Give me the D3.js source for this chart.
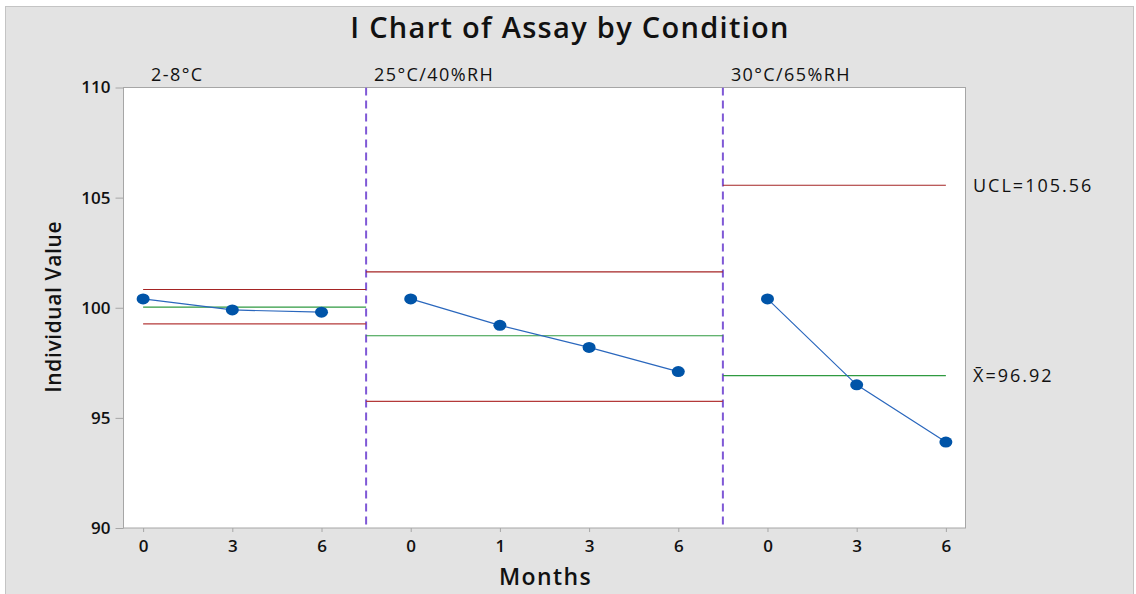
<!DOCTYPE html>
<html>
<head>
<meta charset="utf-8">
<script src="https://cdn.jsdelivr.net/npm/d3@7/dist/d3.min.js"></script>
<style>
  html, body { margin: 0; padding: 0; background: #ffffff; }
  svg { display: block; }
  text { font-family: "Open Sans", "Noto Sans", sans-serif; fill: #111; }
</style>
</head>
<body>
<svg id="chart" width="1136" height="594"></svg>
<script>
// Storage conditions (stages) and observation months
const conditions = ["2-8°C", "25°C/40%RH", "30°C/65%RH"];
const months = [0, 3, 6, 0, 1, 3, 6, 0, 3, 6];
const stageOf = [0, 0, 0, 1, 1, 1, 1, 2, 2, 2];
const assay = [100.4, 99.9, 99.8, 100.4, 99.2, 98.2, 97.1, 100.4, 96.5, 93.9];

// Control limits per stage
const centerLine = [100.03, 98.73, 96.92];
const upperLimit = [100.83, 101.63, 105.56];
const lowerLimit = [99.27, 95.75, 88.28];

// Stage extents along the observation index
const stageStart = [0, 2.5, 6.5];
const stageEnd = [2.5, 6.5, 9];

const yTicks = [90, 95, 100, 105, 110];

const svg = d3.select("#chart");
const plot = { left: 123.5, right: 965.5, top: 87.5, bottom: 528 };

// Panel background
svg.append("rect")
  .attr("x", 5.5).attr("y", 6.5).attr("width", 1128).attr("height", 600)
  .attr("fill", "#e3e3e3").attr("stroke", "#c4c4c4").attr("stroke-width", 1);

const x = d3.scaleLinear().domain([-0.22, 9.22]).range([plot.left, plot.right]);
const y = d3.scaleLinear().domain([90, 110]).range([plot.bottom, plot.top]);

// Plot area
svg.append("rect")
  .attr("x", plot.left).attr("y", plot.top)
  .attr("width", plot.right - plot.left).attr("height", plot.bottom - plot.top)
  .attr("fill", "#ffffff").attr("stroke", "#a6a6a6").attr("stroke-width", 1);

svg.append("defs").append("clipPath").attr("id", "plotClip")
  .append("rect")
  .attr("x", plot.left).attr("y", plot.top)
  .attr("width", plot.right - plot.left).attr("height", plot.bottom - plot.top);

// Y axis
const yAxis = d3.axisLeft(y).tickValues(yTicks).tickSize(8).tickPadding(5).tickFormat(d3.format("d"));
const gy = svg.append("g").attr("transform", `translate(${plot.left},0)`).call(yAxis);
gy.select(".domain").remove();
gy.selectAll(".tick line").attr("stroke", "#a6a6a6");
gy.selectAll(".tick text")
  .style("font-family", "'Open Sans', sans-serif")
  .style("font-size", "17px").style("font-weight", 600).attr("fill", "#111");

// X axis
const xAxis = d3.axisBottom(x).tickValues(d3.range(months.length)).tickSize(4).tickPadding(8)
  .tickFormat(i => months[i]);
const gx = svg.append("g").attr("transform", `translate(0,${plot.bottom})`).call(xAxis);
gx.select(".domain").remove();
gx.selectAll(".tick line").attr("stroke", "#a6a6a6");
gx.selectAll(".tick text")
  .style("font-family", "'Open Sans', sans-serif")
  .style("font-size", "17px").style("font-weight", 600).attr("fill", "#111");

const g = svg.append("g").attr("clip-path", "url(#plotClip)");

// Stage dividers
g.selectAll("line.divider")
  .data(stageStart.slice(1))
  .enter().append("line")
  .attr("class", "divider")
  .attr("x1", d => x(d)).attr("x2", d => x(d))
  .attr("y1", plot.top).attr("y2", plot.bottom)
  .attr("stroke", "#7f58d6").attr("stroke-width", 2)
  .attr("stroke-dasharray", "8,5");

// Control limits and center lines per stage
const limits = [];
conditions.forEach((c, s) => {
  limits.push({ s, v: upperLimit[s], color: "#a52424" });
  limits.push({ s, v: lowerLimit[s], color: "#b43a3a" });
  limits.push({ s, v: centerLine[s], color: "#2f9a40" });
});
g.selectAll("line.limit")
  .data(limits)
  .enter().append("line")
  .attr("class", "limit")
  .attr("x1", d => x(stageStart[d.s])).attr("x2", d => x(stageEnd[d.s]))
  .attr("y1", d => y(d.v)).attr("y2", d => y(d.v))
  .attr("stroke", d => d.color).attr("stroke-width", 1.1);

// Observations connected within each stage
const line = d3.line().x(d => x(d.i)).y(d => y(d.v));
conditions.forEach((c, s) => {
  const pts = assay.map((v, i) => ({ v, i })).filter(d => stageOf[d.i] === s);
  g.append("path").datum(pts)
    .attr("d", line).attr("fill", "none")
    .attr("stroke", "#2a67bd").attr("stroke-width", 1.2);
});
g.selectAll("ellipse.pt")
  .data(assay.map((v, i) => ({ v, i })))
  .enter().append("ellipse")
  .attr("class", "pt")
  .attr("cx", d => x(d.i)).attr("cy", d => y(d.v))
  .attr("rx", 6.5).attr("ry", 5.5)
  .attr("fill", "#0054a8");

// Stage labels
svg.selectAll("text.stage")
  .data(conditions)
  .enter().append("text")
  .attr("class", "stage")
  .attr("x", (d, s) => x(stageStart[s]) + 8)
  .attr("y", 80.5)
  .style("font-size", "18px").style("letter-spacing", "1.4px")
  .text(d => d);

// Limit labels for the last stage
const last = conditions.length - 1;
svg.append("text")
  .attr("x", 973).attr("y", y(upperLimit[last]) + 6.5)
  .style("font-size", "18px").style("letter-spacing", "2px")
  .text("UCL=" + upperLimit[last].toFixed(2));
svg.append("text")
  .attr("x", 973).attr("y", y(centerLine[last]) + 6.5)
  .style("font-size", "18px").style("letter-spacing", "2px")
  .text("X\u0304=" + centerLine[last].toFixed(2));

// Title and axis titles
svg.append("text")
  .attr("x", 570).attr("y", 37.5)
  .attr("text-anchor", "middle")
  .style("font-size", "29px").style("font-weight", 600).style("letter-spacing", "1.3px")
  .text("I Chart of Assay by Condition");

svg.append("text")
  .attr("x", (plot.left + plot.right) / 2 + 1).attr("y", 585)
  .attr("text-anchor", "middle")
  .style("font-size", "23px").style("font-weight", 600).style("letter-spacing", "1.4px")
  .text("Months");

svg.append("text")
  .attr("transform", `translate(61,${(plot.top + plot.bottom) / 2 - 1}) rotate(-90)`)
  .attr("text-anchor", "middle")
  .style("font-size", "21px").style("font-weight", 600).style("letter-spacing", "0.6px")
  .text("Individual Value");
</script>
</body>
</html>
